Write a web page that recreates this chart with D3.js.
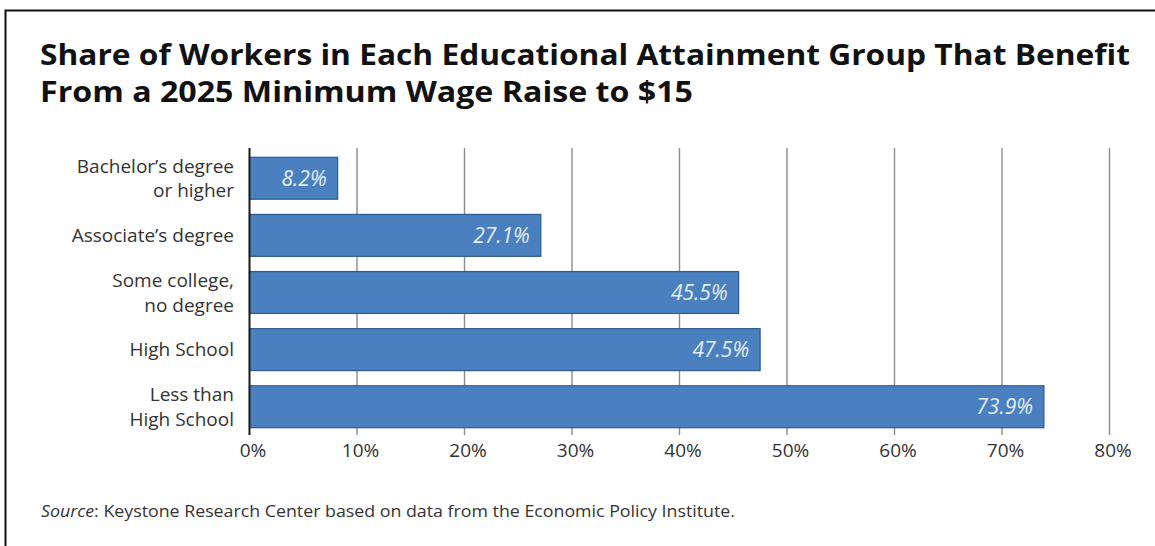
<!DOCTYPE html>
<html>
<head>
<meta charset="utf-8">
<script src="https://cdn.jsdelivr.net/npm/d3@7"></script>
<style>
  html, body { margin: 0; padding: 0; background: #fff; }
  svg { display: block; }
  text { font-family: "Open Sans", Lato, sans-serif; }
</style>
</head>
<body>
<svg id="chart" width="1155" height="546"></svg>
<script>
// Education groups (top to bottom) and share of workers benefiting, in percent
const categories = [
  ["Bachelor\u2019s degree", "or higher"],
  ["Associate\u2019s degree"],
  ["Some college,", "no degree"],
  ["High School"],
  ["Less than", "High School"]
];
const shares = [8.2, 27.1, 45.5, 47.5, 73.9];
const tickValues = [0, 10, 20, 30, 40, 50, 60, 70, 80];
const titleLines = [
  "Share of Workers in Each Educational Attainment Group That Benefit",
  "From a 2025 Minimum Wage Raise to $15"
];
const titleWidths = [1090, 653];

const svg = d3.select("#chart");
const W = 1155, H = 546;

svg.append("rect").attr("width", W).attr("height", H).attr("fill", "#fff");

// frame around the graphic
svg.append("rect")
  .attr("x", 5.5).attr("y", 10.5)
  .attr("width", W + 20).attr("height", H + 20)
  .attr("fill", "none").attr("stroke", "#111").attr("stroke-width", 2);

// title
svg.append("g")
  .selectAll("text")
  .data(titleLines)
  .join("text")
  .attr("x", 40)
  .attr("y", (d, i) => 65 + i * 36.5)
  .attr("font-size", 28)
  .attr("font-weight", 700)
  .attr("fill", "#111")
  .attr("textLength", (d, i) => titleWidths[i])
  .attr("lengthAdjust", "spacingAndGlyphs")
  .text(d => d);

const x = d3.scaleLinear().domain([0, 80]).range([249.5, 1109.5]);
const y = d3.scaleBand()
  .domain(d3.range(categories.length))
  .range([151, 434])
  .paddingInner(0.266)
  .paddingOuter(0.11);

const gridTop = 148, gridBottom = 435;

// vertical gridlines
svg.append("g")
  .selectAll("line")
  .data(tickValues.filter(v => v > 0))
  .join("line")
  .attr("x1", d => x(d)).attr("x2", d => x(d))
  .attr("y1", gridTop).attr("y2", gridBottom)
  .attr("stroke", "#8c8c8c").attr("stroke-width", 1.4);

// bars
svg.append("g")
  .selectAll("rect")
  .data(shares)
  .join("rect")
  .attr("x", x(0))
  .attr("y", (d, i) => y(i))
  .attr("width", d => x(d) - x(0))
  .attr("height", y.bandwidth())
  .attr("fill", "#4a7fc0")
  .attr("stroke", "#2e5b8f")
  .attr("stroke-width", 1.2);

// zero axis line
svg.append("line")
  .attr("x1", x(0)).attr("x2", x(0))
  .attr("y1", gridTop).attr("y2", gridBottom)
  .attr("stroke", "#1a1a1a").attr("stroke-width", 2);

// value labels inside bars
svg.append("g")
  .selectAll("text")
  .data(shares)
  .join("text")
  .attr("x", d => x(d) - 11)
  .attr("y", (d, i) => y(i) + y.bandwidth() / 2)
  .attr("dy", "0.36em")
  .attr("text-anchor", "end")
  .attr("font-size", 21)
  .attr("font-style", "italic")
  .attr("fill", "#e4eefa")
  .text(d => d.toFixed(1) + "%");

// category labels
const catG = svg.append("g");
categories.forEach((lines, i) => {
  const cy = y(i) + y.bandwidth() / 2;
  const lh = 24.5;
  const t = catG.append("text")
    .attr("text-anchor", "end")
    .attr("font-size", 19)
    .attr("fill", "#333");
  lines.forEach((ln, j) => {
    t.append("tspan")
      .attr("x", 234)
      .attr("y", cy + (j - (lines.length - 1) / 2) * lh)
      .attr("dy", "0.36em")
      .text(ln);
  });
});

// x-axis tick labels
const xAxis = d3.axisBottom(x)
  .tickValues(tickValues)
  .tickFormat(d => d + "%")
  .tickSize(0)
  .tickPadding(0);
const axG = svg.append("g")
  .attr("transform", `translate(3, 443)`)
  .call(xAxis);
axG.select(".domain").remove();
axG.selectAll("text")
  .attr("font-family", "'Open Sans', Lato, sans-serif")
  .attr("font-size", 19)
  .attr("fill", "#333");

// source note
const src = svg.append("text")
  .attr("x", 41).attr("y", 517)
  .attr("font-size", 16)
  .attr("fill", "#333")
  .attr("textLength", 694)
  .attr("lengthAdjust", "spacingAndGlyphs");
src.append("tspan").attr("font-style", "italic").text("Source");
src.append("tspan").text(": Keystone Research Center based on data from the Economic Policy Institute.");
</script>
</body>
</html>
